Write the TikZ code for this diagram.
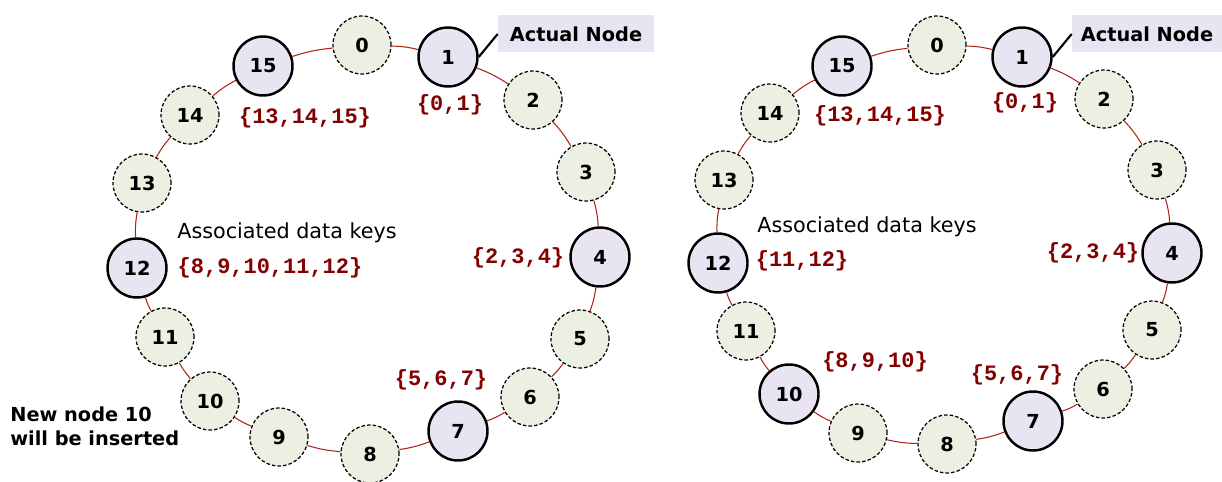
\documentclass[tikz,border=0pt]{standalone}
\usepackage{fontspec}
\setmainfont{DejaVu Sans}
\newfontfamily\keyfont{Liberation Mono}
\definecolor{ringred}{RGB}{175,35,25}
\definecolor{keyred}{RGB}{130,0,0}
\definecolor{virtfill}{RGB}{236,240,226}
\definecolor{actfill}{RGB}{233,228,241}

\begin{document}
\begin{tikzpicture}[x=0.02cm,y=-0.02cm,
	virt/.style={circle,draw,dashed,dash pattern=on 2pt off 1.2pt,line width=0.7pt,fill=virtfill,minimum size=1.16cm,inner sep=0pt,font=\bfseries\fontsize{11}{13}\selectfont},
	act/.style={circle,draw,line width=1.4pt,fill=actfill,minimum size=1.18cm,inner sep=0pt,font=\bfseries\fontsize{11}{13}\selectfont},
	keys/.style={text=keyred,font=\keyfont\bfseries\fontsize{12.5}{14}\selectfont,inner sep=0pt},
	note/.style={font=\fontsize{11.8}{13}\selectfont,inner sep=0pt},
	tag/.style={fill=actfill,font=\bfseries\fontsize{11}{13}\selectfont,minimum height=0.74cm,inner sep=0pt}]
	\useasboundingbox (0,0) rectangle (1222,482);
	% left ring: before the insertion
	\draw (362,45) node [virt] (l0) {0};
	\draw (448,57) node [act] (l1) {1};
	\draw (533,100) node [virt] (l2) {2};
	\draw (586,172) node [virt] (l3) {3};
	\draw (600,257) node [act] (l4) {4};
	\draw (580,339) node [virt] (l5) {5};
	\draw (530,397) node [virt] (l6) {6};
	\draw (458,431) node [act] (l7) {7};
	\draw (370,454) node [virt] (l8) {8};
	\draw (279,437) node [virt] (l9) {9};
	\draw (210,401) node [virt] (l10) {10};
	\draw (165,337) node [virt] (l11) {11};
	\draw (137,268) node [act] (l12) {12};
	\draw (142,183) node [virt] (l13) {13};
	\draw (190,115) node [virt] (l14) {14};
	\draw (263,66) node [act] (l15) {15};
	\path[draw=ringred,line width=0.6pt]
		(l0) edge [bend left=6] (l1) (l1) edge [bend left=6] (l2) (l2) edge [bend left=6] (l3) (l3) edge [bend left=6] (l4)
		(l4) edge [bend left=6] (l5) (l5) edge [bend left=6] (l6) (l6) edge [bend left=6] (l7) (l7) edge [bend left=6] (l8)
		(l8) edge [bend left=6] (l9) (l9) edge [bend left=6] (l10) (l10) edge [bend left=6] (l11) (l11) edge [bend left=6] (l12)
		(l12) edge [bend left=6] (l13) (l13) edge [bend left=6] (l14) (l14) edge [bend left=6] (l15) (l15) edge [bend left=6] (l0);
	\draw (450,105) node [keys] (lk1) {\{0,1\}};
	\draw (305,118) node [keys] (lk15) {\{13,14,15\}};
	\draw (518,258) node [keys] (lk4) {\{2,3,4\}};
	\draw (270,268) node [keys] (lk12) {\{8,9,10,11,12\}};
	\draw (441,380) node [keys] (lk7) {\{5,6,7\}};
	\draw (177,233) node [note,anchor=west] (lassoc) {Associated data keys};
	\draw (576,34) node [tag,minimum width=3.12cm] (ltag) {Actual Node};
	\draw (10,426) node [note,anchor=west,align=left,font=\bfseries\fontsize{11}{13.5}\selectfont] (lnew) {New node 10\\will be inserted};
	\draw[line width=1.2pt] (l1.east) -- (ltag.west);
	% right ring: after the insertion
	\draw (937,45) node [virt] (r0) {0};
	\draw (1022,57) node [act] (r1) {1};
	\draw (1104,99) node [virt] (r2) {2};
	\draw (1157,170) node [virt] (r3) {3};
	\draw (1172,253) node [act] (r4) {4};
	\draw (1152,330) node [virt] (r5) {5};
	\draw (1103,389) node [virt] (r6) {6};
	\draw (1033,421) node [act] (r7) {7};
	\draw (947,444) node [virt] (r8) {8};
	\draw (858,433) node [virt] (r9) {9};
	\draw (789,394) node [act] (r10) {10};
	\draw (746,331) node [virt] (r11) {11};
	\draw (718,263) node [act] (r12) {12};
	\draw (724,180) node [virt] (r13) {13};
	\draw (770,113) node [virt] (r14) {14};
	\draw (842,66) node [act] (r15) {15};
	\path[draw=ringred,line width=0.6pt]
		(r0) edge [bend left=6] (r1) (r1) edge [bend left=6] (r2) (r2) edge [bend left=6] (r3) (r3) edge [bend left=6] (r4)
		(r4) edge [bend left=6] (r5) (r5) edge [bend left=6] (r6) (r6) edge [bend left=6] (r7) (r7) edge [bend left=6] (r8)
		(r8) edge [bend left=6] (r9) (r9) edge [bend left=6] (r10) (r10) edge [bend left=6] (r11) (r11) edge [bend left=6] (r12)
		(r12) edge [bend left=6] (r13) (r13) edge [bend left=6] (r14) (r14) edge [bend left=6] (r15) (r15) edge [bend left=6] (r0);
	\draw (1025,103) node [keys] (rk1) {\{0,1\}};
	\draw (880,116) node [keys] (rk15) {\{13,14,15\}};
	\draw (1093,253) node [keys] (rk4) {\{2,3,4\}};
	\draw (802,261) node [keys] (rk12) {\{11,12\}};
	\draw (875,362) node [keys] (rk10) {\{8,9,10\}};
	\draw (1017,375) node [keys] (rk7) {\{5,6,7\}};
	\draw (757,227) node [note,anchor=west] (rassoc) {Associated data keys};
	\draw (1147,34) node [tag,minimum width=3.0cm] (rtag) {Actual Node};
	\draw[line width=1.2pt] (r1.east) -- (rtag.west);
\end{tikzpicture}
\end{document}
